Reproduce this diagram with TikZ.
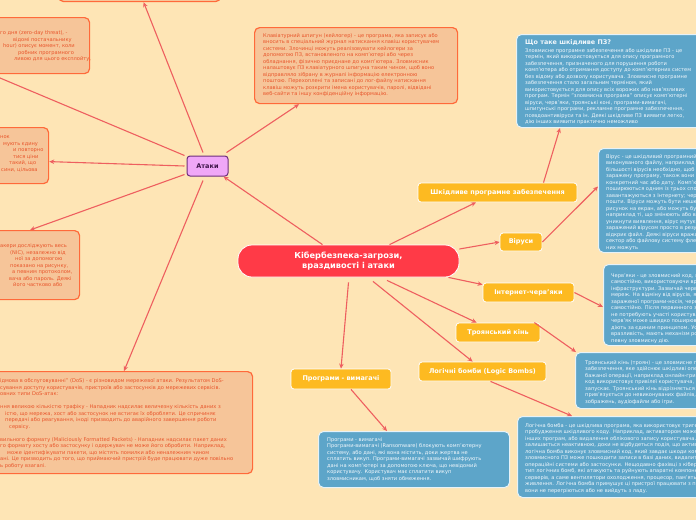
\documentclass[tikz,border=0pt]{standalone}
\usepackage{fontspec}
\setmainfont{DejaVu Sans}
\usetikzlibrary{arrows.meta,calc}
\definecolor{bgc}{HTML}{FEE5B5}
\definecolor{ofill}{HTML}{F6C599}
\definecolor{oline}{HTML}{FF6A3A}
\definecolor{otext}{HTML}{E8552B}
\definecolor{bfill}{HTML}{5DA5C9}
\definecolor{bline}{HTML}{E6F2F8}
\definecolor{btext}{HTML}{F2F8FC}
\definecolor{yfill}{HTML}{FDBA21}
\definecolor{cfill}{HTML}{FF3A47}
\definecolor{pfill}{HTML}{F0A7F7}
\definecolor{pline}{HTML}{6C2E7C}
\definecolor{ptext}{HTML}{3E1548}
\definecolor{lnc}{HTML}{EE5F5F}
\tikzset{
  obox/.style={draw=oline, fill=ofill, line width=1.2pt, rounded corners=5pt, inner sep=0pt, anchor=north west},
  bbox/.style={draw=bline, fill=bfill, line width=1pt, rounded corners=5pt, inner sep=0pt, anchor=north west},
  otxt/.style={text=otext, font=\fontsize{5.1}{6.5}\selectfont, align=left, inner sep=0pt, anchor=north west},
  oline/.style={text=otext, font=\fontsize{5.1}{6.5}\selectfont, inner sep=0pt, anchor=base west},
  btxt/.style={text=btext, font=\fontsize{5.1}{6.5}\selectfont, align=left, inner sep=0pt, anchor=north west},
  ynode/.style={draw=white, fill=yfill, line width=0.8pt, rounded corners=3pt, inner sep=0pt, text=white, font=\fontsize{6.5}{7}\selectfont\bfseries},
  conn/.style={draw=lnc, line width=1.1pt, -{Stealth[length=5pt,width=4.5pt]}},
}
\begin{document}
\begin{tikzpicture}[x=1pt,y=-1pt]
\useasboundingbox (0,0) rectangle (696,520);
\fill[bgc] (0,0) rectangle (696,520);

% central and main nodes
\node[draw=white, fill=cfill, line width=0.8pt, rounded corners=14pt, minimum width=221pt, minimum height=32pt, inner sep=0pt, text=white, align=center, font=\fontsize{8.2}{10}\selectfont\bfseries] (central) at (348.5,261) {Кібербезпека-загрози,\\враздивості і атаки};
\node[draw=pline, fill=pfill, line width=1pt, rounded corners=3pt, minimum width=41pt, minimum height=20pt, inner sep=0pt, text=ptext, font=\fontsize{6.5}{7}\selectfont\bfseries] (atk) at (207.5,166) {Атаки};

\node[ynode, minimum width=159pt, minimum height=19pt] (sh) at (497.5,192.5) {Шкідливе програмне забезпечення};
\node[ynode, minimum width=42pt, minimum height=18pt] (vi) at (521,242) {Віруси};
\node[ynode, minimum width=91pt, minimum height=19pt] (in) at (528.5,292.5) {Інтернет-черв'яки};
\node[ynode, minimum width=84pt, minimum height=19pt] (tr) at (498,332.5) {Троянський кінь};
\node[ynode, minimum width=127pt, minimum height=19pt] (lg) at (482.5,371.5) {Логічні бомби (Logic Bombs)};
\node[ynode, minimum width=100pt, minimum height=20pt] (pr) at (341,379) {Програми - вимагачі};

% orange boxes (attacks)
\node[obox, minimum width=162pt, minimum height=41pt] (b0) at (58,-40) {};

\node[obox, minimum width=109pt, minimum height=56pt] (b1) at (-20,17) {};
\foreach \dx/\t [count=\i] in {0/{го дня (zero-day threat), -}, 13/{відомі постачальнику}, 3/{hour) описує момент, коли}, 18/{робник програмного}, 14/{ливою для цього експлойту,}}
  \node[oline] (b1l\i) at (\dx,{34.9+6.5*(\i-1)}) {\t};

\node[obox, minimum width=68pt, minimum height=56pt] (b2) at (-20,127) {};
\foreach \dx/\t [count=\i] in {0/{нок}, 3/{мують єдину}, 13/{и повторно}, 13/{тися ціни}, 9/{такий, що}, 1/{сини, цільова}}
  \node[oline] (b2l\i) at (\dx,{138.9+6.5*(\i-1)}) {\t};

\node[obox, minimum width=99pt, minimum height=69pt] (b3) at (-20,230) {};
\foreach \dx/\t [count=\i] in {0/{акери досліджують весь}, 10/{(NIC), незалежно від}, 15/{ної за допомогою}, 10/{показано на рисунку,}, 12/{а певним протоколом,}, 9/{вача або пароль. Деякі}, 13/{його частково або}}
  \node[oline] (b3l\i) at (\dx,{247.9+6.5*(\i-1)}) {\t};

\node[obox, minimum width=272pt, minimum height=102pt] (dos) at (-20,371) {};
\foreach \dx/\k/\t in {0/0/{ідмова в обслуговуванні" (DoS) - є різновидом мережевої атаки. Результатом DoS-}, 0/1/{сування доступу користувачів, пристроїв або застосунків до мережевих сервісів.}, 0/2/{овних типи DoS-атак:}, 0/4/{ння великою кількістю трафіку - Нападник надсилає величезну кількість даних з}, 5/5/{істю, що мережа, хост або застосунок не встигає їх обробляти. Це спричиняє}, 5/6/{передачі або реагування, іноді призводить до аварійного завершення роботи}, 9/7/{сервісу.}, 0/9/{вильного формату (Maliciously Formatted Packets) - Нападник надсилає пакет даних}, 0/10/{го формату хосту або застосунку і одержувач не може його обробити. Наприклад,}, 7/11/{може ідентифікувати пакети, що містять помилки або неналежним чином}, 0/12/{ані. Це призводить до того, що приймаючий пристрій буде працювати дуже повільно}, 0/13/{ь роботу взагалі.}}
  \node[oline] (dosl\k) at (\dx,{382.9+6.5*\k}) {\t};

\node[obox, minimum width=203pt, minimum height=76pt] (kl) at (254,27) {};
\node[otxt] (klt) at (263,33) {Клавіатурний шпигун (кейлогер) - це програма, яка записує або\\
вносить в спеціальний журнал натискання клавіш користувачем\\
системи. Злочинці можуть реалізовувати кейлогери за\\
допомогою ПЗ, встановленого на комп'ютері або через\\
обладнання, фізично приєднане до комп'ютера. Зловмисник\\
налаштовує ПЗ клавіатурного шпигуна таким чином, щоб воно\\
відправляло зібрану в журналі інформацію електронною\\
поштою. Перехоплені та записані до лог-файлу натискання\\
клавіш можуть розкрити імена користувачів, паролі, відвідані\\
веб-сайти та іншу конфіденційну інформацію.};

% blue boxes
\node[bbox, minimum width=220pt, minimum height=93pt] (ws) at (516,34) {};
\node[btxt, font=\fontsize{6.4}{7}\selectfont\bfseries] (wsh) at (525,39.5) {Що таке шкідливе ПЗ?};
\node[btxt] (wst) at (525,48) {Зловмисне програмне забезпечення або шкідливе ПЗ - це\\
термін, який використовується для опису програмного\\
забезпечення, призначеного для порушення роботи\\
комп'ютера або отримання доступу до комп'ютерних систем\\
без відому або дозволу користувача. Зловмисне програмне\\
забезпечення стало загальним терміном, який\\
використовується для опису всіх ворожих або нав'язливих\\
програм. Термін "зловмисна програма" описує комп'ютерні\\
віруси, черв'яки, троянські коні, програми-вимагачі,\\
шпигунські програми, рекламне програмне забезпечення,\\
псевдоантивіруси та ін. Деякі шкідливе ПЗ виявити легко,\\
дію інших виявити практично неможливо};

\node[bbox, minimum width=140pt, minimum height=104pt] (vb) at (598,148) {};
\node[btxt] (vbt) at (606,154) {Вірус - це шкідливий програмний код, який прикріплюється до\\
виконуваного файлу, наприклад до легітимної програми. Для\\
більшості вірусів необхідно, щоб користувач активував\\
заражену програму, також вони можуть активуватися в\\
конкретний час або дату. Комп'ютерні віруси зазвичай\\
поширюються одним із трьох способів: зі знімних носіїв;\\
завантажуються з Інтернету; через вкладення електронної\\
пошти. Віруси можуть бути нешкідливими та просто виводити\\
рисунок на екран, або можуть бути руйнівними,\\
наприклад ті, що змінюють або видаляють дані. Щоб\\
уникнути виявлення, вірус мутує. Поширити вірус можна,\\
заражений вірусом просто в результаті того, що користувач\\
відкриє файл. Деякі віруси вражають завантажувальний\\
сектор або файлову систему флеш-накопичувача, і деякі з\\
них можуть};

\node[bbox, minimum width=140pt, minimum height=81pt] (wb) at (603,264) {};
\node[btxt] (wbt) at (611,273) {Черв'яки - це зловмисний код, який реплікується\\
самостійно, використовуючи вразливості мережевої\\
інфраструктури. Зазвичай черв'яки уповільнюють роботу\\
мереж. На відміну від вірусів, яким для роботи потрібна\\
зараженої програми-носія, черв'яки можуть працювати\\
самостійно. Після первинного зараження черв'яки\\
не потребують участі користувача. Після зараження\\
черв'як може швидко поширюватися мережею. Черв'яки\\
діють за єдиним принципом. Усі вони експлуатують\\
вразливість, мають механізм розмноження та виконують\\
певну зловмисну дію.};

\node[bbox, minimum width=160pt, minimum height=56pt] (tb) at (575,352) {};
\node[btxt] (tbt) at (585,360) {Троянський кінь (троян) - це зловмисне програмне\\
забезпечення, яке здійснює шкідливі операції під виглядом\\
бажаної операції, наприклад онлайн-гри. Цей шкідливий\\
код використовує привілеї користувача, який його\\
запускає. Троянський кінь відрізняється від вірусу тим, що\\
прив'язується до невиконуваних файлів, наприклад файлів\\
зображень, аудіофайли або ігри.};

\node[bbox, minimum width=220pt, minimum height=81pt] (lb) at (517,416) {};
\node[btxt] (lbt) at (525,423) {Логічна бомба - це шкідлива програма, яка використовує тригер для\\
пробудження шкідливого коду. Наприклад, активатором може бути дата,\\
інших програм, або видалення облікового запису користувача. Логічна\\
залишається неактивною, доки не відбудеться подія, що активує її.\\
логічна бомба виконує зловмисний код, який завдає шкоди комп'ютеру.\\
зловмисного ПЗ може пошкодити записи в базі даних, видалити файли\\
операційні системи або застосунки. Нещодавно фахівці з кібербезпеки\\
тип логічних бомб, які атакують та руйнують апаратні компоненти\\
серверів, а саме вентилятори охолодження, процесор, пам'ять, диски\\
живлення. Логічна бомба примушує ці пристрої працювати з перевантаженням,\\
вони не перегріються або не вийдуть з ладу.};

\node[bbox, minimum width=191pt, minimum height=56pt] (rw) at (318,431) {};
\node[btxt] (rwt) at (327,437) {Програми - вимагачі\\
Програми-вимагачі (Ransomware) блокують комп'ютерну\\
систему, або дані, які вона містить, доки жертва не\\
сплатить викуп. Програми-вимагачі зазвичай шифрують\\
дані на комп'ютері за допомогою ключа, що невідомий\\
користувачу. Користувач має сплатити викуп\\
зловмисникам, щоб зняти обмеження.};

% connectors
\draw[conn] ([xshift=-26pt]central.north) -- ([xshift=-5pt]atk.south east);
\draw[conn] ([xshift=41pt]central.north) -- ([xshift=-21.5pt]sh.south);
\draw[conn] ([yshift=12pt]central.east) -- (vi.west);
\draw[conn] ([xshift=-11pt]central.south east) -- ([yshift=-2pt]in.north west);
\draw[conn] ([xshift=38.5pt,yshift=-3pt]central.south) -- ([xshift=21pt]tr.north west);
\draw[conn] ([xshift=24.5pt,yshift=-4pt]central.south) -- ([xshift=54pt]lg.north west);
\draw[conn] ([yshift=-5pt]central.south) -- (pr.north);
\draw[conn] ([xshift=10pt]pr.south) -- ([xshift=69pt]rw.north west);

\draw[conn] ([xshift=46pt]sh.north) -- ([xshift=44pt]ws.south west);
\draw[conn] (vi.east) -- ([yshift=14pt]vb.west);
\draw[conn] (in.east) -- ([yshift=-2pt]wb.west);
\draw[conn] ([xshift=-6pt]tr.north east) -- ([xshift=1pt]tb.north west);
\draw[conn] ([xshift=8pt]lg.south) -- ([xshift=55pt]lb.north west);

\draw[conn] ([xshift=-2pt,yshift=3pt]atk.north east) -- ([xshift=45pt]kl.south west);
\draw[conn] ([xshift=-4.5pt,yshift=-4pt]atk.south) -- ([xshift=144pt]dos.north west);
\draw[conn] ([xshift=-2pt,yshift=2pt]atk.south west) -- ([xshift=50pt]b3.north west);
\draw[conn] ([xshift=-2pt]atk.west) -- ([yshift=-6pt]b2.east);
\draw[conn] ([xshift=-2pt]atk.north west) -- ([xshift=11pt]b1.south west);
\draw[conn] ([xshift=-4.5pt,yshift=3pt]atk.north) -- ([xshift=4pt]b0.south);
\end{tikzpicture}
\end{document}
